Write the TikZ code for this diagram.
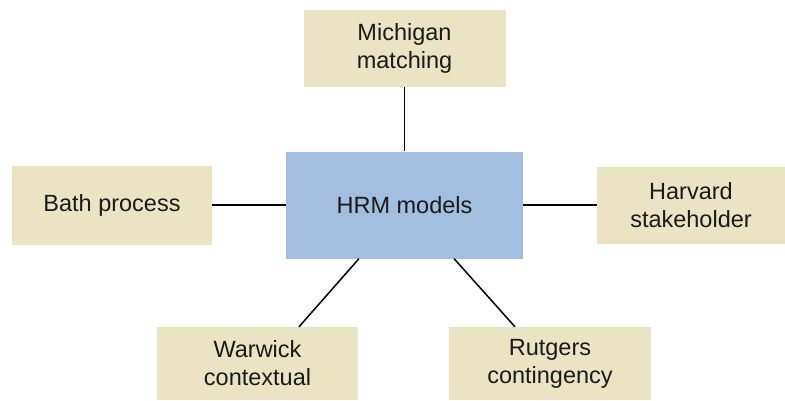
\documentclass[tikz,border=0pt]{standalone}
\usepackage{fontspec}
\setmainfont{Liberation Sans}
\usetikzlibrary{calc}
\definecolor{modelfill}{HTML}{EBE4C4}
\definecolor{hubfill}{HTML}{A2BFDF}
\definecolor{labeltext}{HTML}{1A1A1A}
\begin{document}
\begin{tikzpicture}[x=1pt,y=-1pt,
  box/.style={fill=modelfill, draw=none, align=center, text=labeltext,
    font=\fontsize{23.5}{28}\selectfont, inner sep=0pt},
  hub/.style={box, fill=hubfill},
  link/.style={draw=black, line width=1.5pt}]
\useasboundingbox (0,0) rectangle (785,400);
\clip (0,0) rectangle (785,400);
\fill[white] (0,0) rectangle (785,400);
% central node
\node[hub, minimum width=237pt, minimum height=107pt] (hrm) at (404.5,205) {HRM models};
% surrounding models
\node[box, minimum width=202pt, minimum height=77pt] (mich) at (404.5,48.5) {Michigan\\matching};
\node[box, minimum width=200pt, minimum height=79pt] (bath) at (112,205) {Bath process};
\node[box, minimum width=188pt, minimum height=77pt] (harv) at (691,205) {Harvard\\stakeholder};
\node[box, minimum width=201pt, minimum height=73pt] (warw) at (257.5,363.5) {Warwick\\contextual};
\node[box, minimum width=202pt, minimum height=73pt] (rutg) at (550,363.5) {Rutgers\\contingency};
% connectors
\draw[link] (mich.south) -- (hrm.north);
\draw[link] (bath.east) -- (hrm.west);
\draw[link] (hrm.east) -- (harv.west);
\draw[link] ($(hrm.south west)!0.308!(hrm.south east)$) -- ($(warw.north west)!0.706!(warw.north east)$);
\draw[link] ($(hrm.south west)!0.709!(hrm.south east)$) -- ($(rutg.north west)!0.327!(rutg.north east)$);
\end{tikzpicture}
\end{document}
